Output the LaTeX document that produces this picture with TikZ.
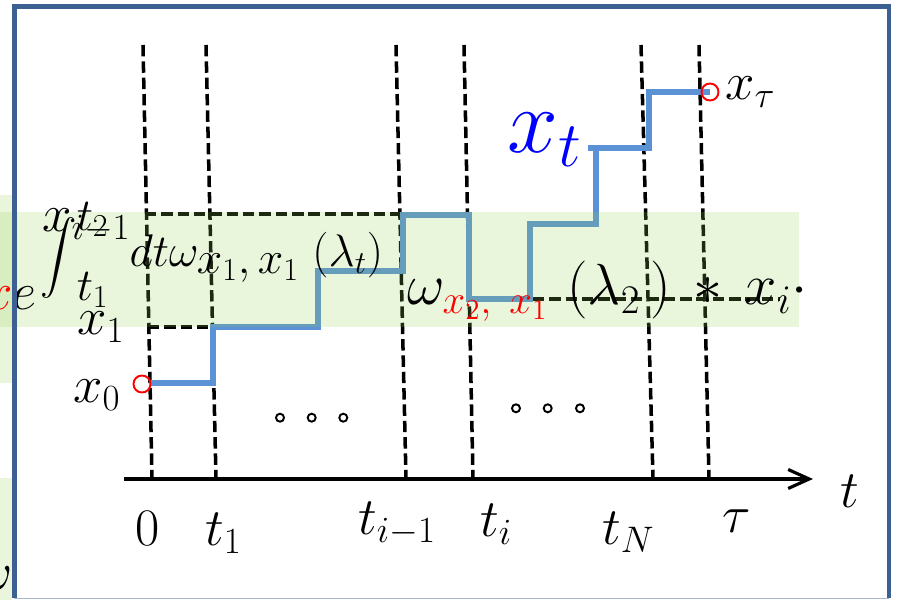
\RequirePackage{fix-cm}
\documentclass[tikz,border=0pt]{standalone}
\usepackage{amsmath}
\usepackage{tikz}
\usetikzlibrary{arrows.meta}
\definecolor{frameblue}{RGB}{60,96,146}
\definecolor{framegray}{RGB}{165,184,206}
\definecolor{pathblue}{RGB}{91,145,213}
\definecolor{bandgreen}{RGB}{146,208,80}
\tikzset{
  gridline/.style={dash pattern=on 6.5pt off 2.8pt, line width=2pt, color=black},
  trajectory/.style={line width=3.4pt, color=pathblue},
  endpoint/.style={draw=red, line width=1.1pt},
  ring/.style={draw=black, line width=1.1pt},
  band/.style={fill=bandgreen, fill opacity=0.2},
  lbl/.style={inner sep=0pt, anchor=base west, font=\fontsize{30}{36}\selectfont},
  timeaxis/.style={-{Straight Barb[length=0.42cm,width=0.38cm]}, line width=1.8pt}
}

\begin{document}
\begin{tikzpicture}
  \useasboundingbox (0,0) rectangle (17.94,12);
  \clip (0,0) rectangle (17.94,12);

  % Time slices
  \foreach \xtop/\xbot in {2.86/3.04, 4.12/4.32, 7.92/8.12, 9.28/9.46, 12.82/13.06, 13.98/14.18} {
    \draw[gridline] (\xtop,11.1) -- (\xbot,2.44);
  }
  \draw[gridline] (2.9,7.72) -- (8.08,7.72);
  \draw[gridline] (2.96,5.46) -- (4.26,5.46);
  \draw[gridline] (10.66,6.02) -- (15.6,6.02);

  % Time axis
  \draw[timeaxis] (2.48,2.42) -- (16.26,2.42);

  % Jump trajectory
  \draw[trajectory] (3.0,4.34) -- (4.26,4.34) -- (4.26,5.46) -- (6.36,5.46) -- (6.36,6.58)
    -- (8.06,6.58) -- (8.06,7.70) -- (9.38,7.70) -- (9.38,6.02) -- (10.6,6.02) -- (10.6,7.52)
    -- (11.92,7.52) -- (11.92,9.04) (11.76,9.04) -- (12.98,9.04) -- (12.98,10.16) -- (14.2,10.16);
  \draw[endpoint] (2.84,4.32) circle (0.17cm);
  \draw[endpoint] (14.2,10.16) circle (0.17cm);

  % Dots between slices
  \foreach \xdot in {5.6, 6.234, 6.866} {
    \draw[ring] (\xdot,3.646) circle (0.08cm);
  }
  \foreach \xdot in {10.32, 10.954, 11.6} {
    \draw[ring] (\xdot,3.834) circle (0.08cm);
  }

  % Highlight bands
  \fill[band] (0,4.34) rectangle (0.24,8.1);
  \fill[band] (0,5.46) rectangle (15.98,7.76);
  \fill[band] (0,0) rectangle (0.24,2.44);

  % Axis labels
  \node[lbl] (lab0) at (2.7,1.08) {$0$};
  \node[lbl] (labt1) at (4.1,1.08) {$t_1$};
  \node[lbl] (labtim) at (7.16,1.3) {$t_{i-1}$};
  \node[lbl] (labti) at (9.6,1.26) {$t_i$};
  \node[lbl] (labtN) at (12.04,1.1) {$t_N$};
  \node[lbl] (labtau) at (14.44,1.34) {$\tau$};
  \node[lbl] (labt) at (16.8,1.84) {$t$};

  % State labels
  \node[lbl] (labx0) at (1.46,3.94) {$x_0$};
  \node[lbl] (labx1) at (1.54,5.3) {$x_1$};
  \node[lbl] (labxim) at (0.84,7.36) {$x_{i-1}$};
  \node[lbl] (labxtau) at (14.5,10.0) {$x_\tau$};
  \node[lbl, font=\fontsize{52}{60}\selectfont, color=blue] (labxt) at (10.14,8.94) {$x_t$};

  % Weights
  \node[lbl] (expbase) at (-0.345,5.8) {${\color{red}x}e$};
  \node[lbl, font=\fontsize{26}{31}\selectfont] (expint) at (0.8,6.66)
    {$\mathop{\hbox{\fontsize{20}{24}\selectfont$\displaystyle\int$}}\nolimits_{\textstyle t_1}^{\textstyle t_2}\mkern5mu dt\omega_{\textstyle x_1,x_1}\;(\lambda_t)$};
  \node[lbl, font=\fontsize{33}{40}\selectfont] (rate) at (8.14,5.9)
    {$\omega_{\color{red}x_2,\;\,x_1}\mkern6mu(\lambda_2\,)\,\ast\,x_i{\cdot}$};
  \node[lbl, anchor=base east] (frag) at (0.26,0.2) {$\omega$};

  % Frame
  \draw[frameblue, line width=2.3pt] (0.29,0.04) -- (0.29,11.87) -- (17.78,11.87) -- (17.78,0.04);
  \draw[framegray, line width=1pt] (0.29,0.03) -- (17.78,0.03);
\end{tikzpicture}
\end{document}
